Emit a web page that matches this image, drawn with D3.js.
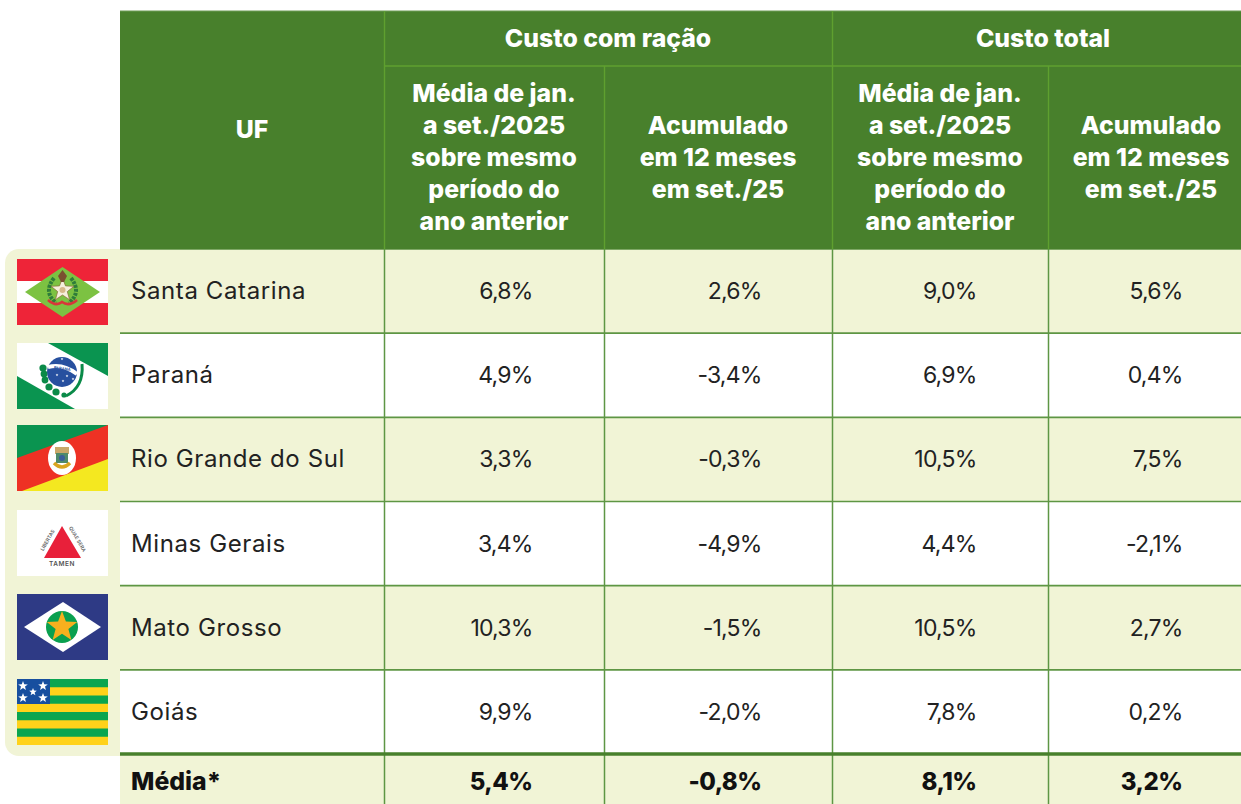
<!DOCTYPE html>
<html>
<head>
<meta charset="utf-8">
<script src="https://cdn.jsdelivr.net/npm/d3@7"></script>
<style>
  html, body { margin: 0; padding: 0; background: #fff; }
  svg { display: block; }
  text { font-family: Inter, "Open Sans", sans-serif; }
</style>
</head>
<body>
<svg id="tabela" width="1241" height="804"></svg>
<script>
var estados = ['Santa Catarina', 'Paraná', 'Rio Grande do Sul', 'Minas Gerais', 'Mato Grosso', 'Goiás'];
var racaoMedia = ['6,8%', '4,9%', '3,3%', '3,4%', '10,3%', '9,9%'];
var racaoAcum = ['2,6%', '-3,4%', '-0,3%', '-4,9%', '-1,5%', '-2,0%'];
var totalMedia = ['9,0%', '6,9%', '10,5%', '4,4%', '10,5%', '7,8%'];
var totalAcum = ['5,6%', '0,4%', '7,5%', '-2,1%', '2,7%', '0,2%'];
var mediaFinal = ['5,4%', '-0,8%', '8,1%', '3,2%'];
var tituloGrupos = ['Custo com ração', 'Custo total'];
var tituloMedia = ['Média de jan.', 'a set./2025', 'sobre mesmo', 'período do', 'ano anterior'];
var tituloAcum = ['Acumulado', 'em 12 meses', 'em set./25'];

var VERDE = '#48802c', LINHA = '#5fa02f', CREME = '#f1f4d6', GRADE = '#5e9644';
var TAM_CAB = 24.8;

var svg = d3.select('#tabela');

// colunas e linhas
var colunas = [racaoMedia, racaoAcum, totalMedia, totalAcum];
var colX = d3.scaleOrdinal().domain([0, 1, 2, 3]).range([384, 604, 832, 1048]);
var fimCol = d3.scaleOrdinal().domain([0, 1, 2, 3]).range([532, 761, 976, 1182]);
var rowY = d3.scaleBand().domain(estados).range([249, 754]);
var rowH = rowY.bandwidth();

// painel das bandeiras
svg.append('rect').attr('x', 5).attr('y', 249).attr('width', 130).attr('height', 507).attr('rx', 14).attr('fill', CREME);

// fundo das linhas
svg.append('g').selectAll('rect').data(estados)
  .enter().append('rect')
  .attr('x', 120).attr('y', d => rowY(d))
  .attr('width', 1121).attr('height', rowH)
  .attr('fill', (d, i) => i % 2 === 0 ? CREME : '#fff');
svg.append('rect').attr('x', 120).attr('y', 754).attr('width', 1121).attr('height', 50).attr('fill', CREME);

// cabecalho
svg.append('rect').attr('x', 120).attr('y', 11).attr('width', 1121).attr('height', 238).attr('fill', VERDE);

// grade
function linha(x1, y1, x2, y2, cor, w) {
  svg.append('line').attr('x1', x1).attr('y1', y1).attr('x2', x2).attr('y2', y2)
    .attr('stroke', cor).attr('stroke-width', w);
}
linha(120, 11, 1241, 11, '#6f9c57', 1.2);
linha(120, 249.5, 1241, 249.5, '#7fa866', 1);
[0, 2].forEach(c => linha(colX(c) + .5, 11, colX(c) + .5, 249, LINHA, 1.4));
[1, 3].forEach(c => linha(colX(c) + .5, 66, colX(c) + .5, 249, LINHA, 1.4));
linha(384, 66, 1241, 66, LINHA, 1.5);
[0, 1, 2, 3].forEach(c => linha(colX(c) + .5, 249, colX(c) + .5, 804, GRADE, 1.5));
estados.slice(1).forEach(d => linha(120, rowY(d), 1241, rowY(d), GRADE, 1.6));
linha(120, 754, 1241, 754, VERDE, 3.6);

// textos do cabecalho
function titulo(x, y, s) {
  return svg.append('text').attr('x', x).attr('y', y).attr('text-anchor', 'middle').attr('fill', '#fff')
    .attr('font-size', TAM_CAB).attr('font-weight', 800).text(s);
}
function tituloMulti(cx, y0, linhas) {
  linhas.forEach((l, i) => titulo(cx, y0 + i * 32, l));
}
titulo(252, 138, 'UF');
titulo(608, 47, tituloGrupos[0]);
titulo(1043, 47, tituloGrupos[1]);
tituloMulti(494, 102, tituloMedia);
tituloMulti(718, 134, tituloAcum);
tituloMulti(940, 102, tituloMedia);
tituloMulti(1151, 134, tituloAcum);

// corpo
var baseY = rowH / 2 + 8;
svg.append('g').selectAll('text').data(estados)
  .enter().append('text')
  .attr('x', 131).attr('y', d => rowY(d) + baseY)
  .attr('fill', '#222').attr('font-size', 24).attr('letter-spacing', .6).text(d => d);
colunas.forEach(function (col, c) {
  svg.append('g').selectAll('text').data(col)
    .enter().append('text')
    .attr('x', fimCol(c) + .5).attr('y', (d, i) => rowY(estados[i]) + baseY)
    .attr('text-anchor', 'end').attr('fill', '#222').attr('font-size', 23)
    .attr('letter-spacing', -0.8).text(d => d);
});
svg.append('text').attr('x', 131).attr('y', 790).attr('fill', '#111').attr('font-size', TAM_CAB).attr('font-weight', 800).text('Média*');
mediaFinal.forEach(function (v, c) {
  svg.append('text').attr('x', fimCol(c) + .5).attr('y', 790).attr('text-anchor', 'end')
    .attr('fill', '#111').attr('font-size', 24).attr('font-weight', 800)
    .attr('letter-spacing', -0.5).text(v);
});

// bandeiras (91x66, desenhadas em coordenadas locais)
var folgaBandeira = [10, 10, 8, 8, 8, 9];
function bandeira(i) {
  var y = Math.round(rowY(estados[i])) + folgaBandeira[i];
  var g = svg.append('g').attr('transform', 'translate(17,' + y + ')');
  var clipId = 'clip' + i;
  g.append('clipPath').attr('id', clipId).append('rect').attr('width', 91).attr('height', 66);
  var b = g.append('g').attr('clip-path', 'url(#' + clipId + ')');
  b.append('rect').attr('width', 91).attr('height', 66).attr('fill', '#fff');
  return b;
}
function poly(g, pts, cor) { return g.append('polygon').attr('points', pts).attr('fill', cor); }
function estrela(g, cx, cy, r, cor) {
  var p = d3.range(10).map(function (k) {
    var a = -Math.PI / 2 + k * Math.PI / 5, rr = k % 2 ? r * .42 : r;
    return (cx + rr * Math.cos(a)).toFixed(1) + ',' + (cy + rr * Math.sin(a)).toFixed(1);
  }).join(' ');
  return poly(g, p, cor);
}
function curva(g, d, cor, w) {
  return g.append('path').attr('d', d).attr('fill', 'none').attr('stroke', cor).attr('stroke-width', w);
}

// Santa Catarina
var sc = bandeira(0);
sc.append('rect').attr('width', 91).attr('height', 22).attr('fill', '#ee2438');
sc.append('rect').attr('y', 44).attr('width', 91).attr('height', 22).attr('fill', '#ee2438');
poly(sc, '8,33 45.5,8 83,33 45.5,58', '#7cc242');
curva(sc, 'M37,19 Q26,33 39,44', '#2f7d3a', 4).attr('stroke-dasharray', '3 1');
curva(sc, 'M54,19 Q65,33 52,44', '#2f7d3a', 4).attr('stroke-dasharray', '3 1');
estrela(sc, 45.5, 31, 12, '#f6efdc').attr('stroke', '#8a6a3a').attr('stroke-width', .7);
sc.append('circle').attr('cx', 45.5).attr('cy', 31).attr('r', 3).attr('fill', '#d8b98a');
curva(sc, 'M31,41 Q39,48 45,43 Q52,48 60,41', '#d8353a', 2.6);
poly(sc, '41,17 45.5,11 50,17 47,23 44,23', '#7a4f30');

// Parana
var pr = bandeira(1);
poly(pr, '31,0 91,0 91,33', '#0a9450');
poly(pr, '0,33 0,66 58,66', '#0a9450');
pr.append('circle').attr('cx', 45).attr('cy', 29).attr('r', 15).attr('fill', '#27509f');
curva(pr, 'M31,24 Q46,20 60,31', '#fff', 4);
pr.append('text').attr('x', 45).attr('y', 27).attr('text-anchor', 'middle').attr('fill', '#27509f')
  .attr('font-size', 4).attr('font-weight', 700).attr('transform', 'rotate(8 45 27)').text('PARANÁ');
[[45, 16], [40, 32], [50, 33], [46, 38], [56, 36]].forEach(c => estrela(pr, c[0], c[1], 1.5, '#fff'));
curva(pr, 'M65,21 Q67,44 49,53', '#0a8a48', 3);
[[26, 25, 3.6], [27, 31, 3.4], [28, 37, 3.4], [32, 44, 3.6], [39, 49, 3.6], [47, 52, 2.6]].forEach(function (c) {
  pr.append('circle').attr('cx', c[0]).attr('cy', c[1]).attr('r', c[2]).attr('fill', '#0a8a48');
});

// Rio Grande do Sul
var rs = bandeira(2);
rs.append('rect').attr('width', 91).attr('height', 66).attr('fill', '#ee3124');
poly(rs, '0,0 91,0 0,33', '#0a9450');
poly(rs, '5,66 91,34 91,66', '#f4e820');
rs.append('ellipse').attr('cx', 45).attr('cy', 33).attr('rx', 14).attr('ry', 17).attr('fill', '#fff');
rs.append('rect').attr('x', 38).attr('y', 22).attr('width', 14).attr('height', 7).attr('fill', '#c9a86a');
rs.append('rect').attr('x', 39).attr('y', 28).attr('width', 12).attr('height', 10).attr('fill', '#4f8a6a');
rs.append('circle').attr('cx', 45).attr('cy', 33).attr('r', 3).attr('fill', '#3a5f9a');
curva(rs, 'M37,38 Q45,46 53,38', '#d9a520', 3.4);

// Minas Gerais
var mg = bandeira(3);
poly(mg, '45,16 27,48 64,48', '#e8203a');
mg.append('text').attr('x', 32).attr('y', 31).attr('text-anchor', 'middle').attr('fill', '#666')
  .attr('font-size', 5).attr('font-weight', 600).attr('transform', 'rotate(-60 32 31)').text('LIBERTAS');
mg.append('text').attr('x', 59).attr('y', 30).attr('text-anchor', 'middle').attr('fill', '#666')
  .attr('font-size', 5).attr('font-weight', 600).attr('transform', 'rotate(60 59 30)').text('QUAE SERA');
mg.append('text').attr('x', 45).attr('y', 56).attr('text-anchor', 'middle').attr('fill', '#555')
  .attr('font-size', 6.5).attr('font-weight', 600).attr('letter-spacing', .5).text('TAMEN');

// Mato Grosso
var mt = bandeira(4);
mt.append('rect').attr('width', 91).attr('height', 66).attr('fill', '#2e3a85');
poly(mt, '7,33 46,8 84,33 46,58', '#fff');
mt.append('circle').attr('cx', 45).attr('cy', 33).attr('r', 16).attr('fill', '#0aa04f');
estrela(mt, 45, 33, 16, '#f7b01e');

// Goias
var go = bandeira(5);
go.append('rect').attr('width', 91).attr('height', 66).attr('fill', '#ffd21a');
[0, 2, 4, 6].forEach(function (k) {
  go.append('rect').attr('y', k * 8.25).attr('width', 91).attr('height', 8.25).attr('fill', '#0aa550');
});
go.append('rect').attr('width', 33).attr('height', 25).attr('fill', '#174f9f');
[[6, 7], [26, 7], [16, 13], [6, 19], [26, 19]].forEach(function (c) {
  estrela(go, c[0], c[1], c[0] === 16 ? 4 : 5, '#fff');
});
</script>
</body>
</html>
